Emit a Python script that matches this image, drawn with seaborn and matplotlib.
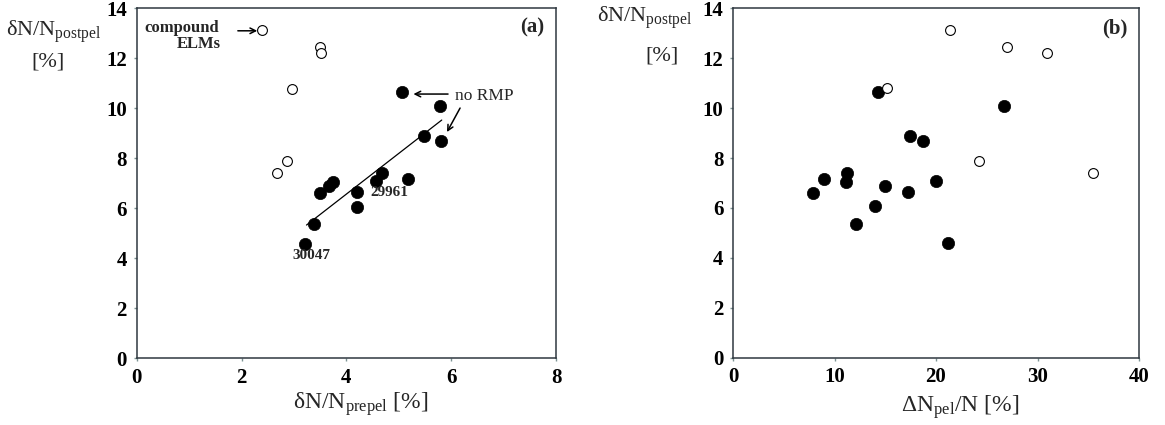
import matplotlib
matplotlib.use("Agg")
import matplotlib.pyplot as plt
import seaborn as sns
import numpy as np
import pandas as pd

# ---------------- data ----------------
# filled circles (RMP / no RMP discharges)
filled_post = [10.64, 10.08, 8.88, 8.69, 7.40, 7.09, 7.17, 7.04, 6.88, 6.61, 6.64, 6.07, 5.37, 4.59]
filled_pre = [5.06, 5.78, 5.49, 5.81, 4.68, 4.57, 5.17, 3.75, 3.67, 3.49, 4.21, 4.20, 3.39, 3.22]
filled_pel = [14.25, 26.74, 17.39, 18.75, 11.24, 19.97, 8.99, 11.16, 14.99, 7.92, 17.28, 13.97, 12.08, 21.18]
# open circles (compound ELMs)
open_post = [13.12, 12.46, 12.22, 10.79, 7.90, 7.40]
open_pre = [2.40, 3.49, 3.52, 2.96, 2.87, 2.67]
open_pel = [21.40, 27.04, 30.94, 15.22, 24.20, 35.50]
# fitted line in panel (a)
fit_x = [3.24, 5.82]
fit_y = [5.33, 9.53]

xticks_a = [0, 2, 4, 6, 8]
xticks_b = [0, 10, 20, 30, 40]
yticks = [0, 2, 4, 6, 8, 10, 12, 14]

df_f = pd.DataFrame({"pre": filled_pre, "pel": filled_pel, "post": filled_post})
df_o = pd.DataFrame({"pre": open_pre, "pel": open_pel, "post": open_post})
df_fit = pd.DataFrame({"x": fit_x, "y": fit_y})

# ---------------- style ----------------
sns.set_style("white")
plt.rcParams["font.family"] = ["Liberation Serif", "DejaVu Serif"]
plt.rcParams["mathtext.fontset"] = "custom"
plt.rcParams["mathtext.rm"] = "Liberation Serif"
plt.rcParams["mathtext.it"] = "Liberation Serif:italic"
plt.rcParams["mathtext.bf"] = "Liberation Serif:bold"

W, H = 1165, 425
fig = plt.figure(figsize=(W / 100, H / 100), dpi=100)

def px_rect(l, r, t, b):
    return [l / W, 1 - b / H, (r - l) / W, (b - t) / H]

ax1 = fig.add_axes(px_rect(136.7, 556.0, 8.3, 358.3))
ax2 = fig.add_axes(px_rect(733.0, 1139.0, 8.3, 357.7))

spine_col = "#2f3840"
tick_col = "#7d9494"

def style_axes(ax, xticks):
    ax.set_ylim(0, 14)
    ax.set_xlim(xticks[0], xticks[-1])
    ax.set_xticks(xticks)
    ax.set_yticks(yticks)
    ax.set_xlabel("")
    ax.set_ylabel("")
    for s in ax.spines.values():
        s.set_visible(True)
        s.set_color(spine_col)
        s.set_linewidth(1.1)
    ax.tick_params(axis="both", which="both", direction="out", length=2.5,
                   width=1.0, color=tick_col, pad=4.5, labelsize=15,
                   bottom=True, left=True)
    for lab in ax.get_xticklabels() + ax.get_yticklabels():
        lab.set_fontweight("bold")
        lab.set_color("black")

for ax, xcol, xticks in [(ax1, "pre", xticks_a), (ax2, "pel", xticks_b)]:
    sns.scatterplot(data=df_f, x=xcol, y="post", ax=ax, s=78, color="black",
                    edgecolor="black", linewidth=0.5, zorder=3, legend=False)
    sns.scatterplot(data=df_o, x=xcol, y="post", ax=ax, s=50, facecolor="white",
                    edgecolor="black", linewidth=0.8, zorder=3, legend=False)
    style_axes(ax, xticks)

sns.lineplot(data=df_fit, x="x", y="y", ax=ax1, color="black", linewidth=0.9,
             zorder=2, legend=False)
ax1.set_xlabel("")
ax1.set_ylabel("")

# ---------------- annotations panel (a) ----------------
ax1.text(1.57, 13.06, "compound", ha="right", va="baseline", fontsize=12,
         fontweight="bold")
ax1.text(1.61, 12.42, "ELMs", ha="right", va="baseline", fontsize=12,
         fontweight="bold")
ax1.annotate("", xy=(2.30, 13.10), xytext=(1.93, 13.10),
             arrowprops=dict(arrowstyle="->", lw=1.1, color="black",
                             shrinkA=0, shrinkB=0))
ax1.text(6.08, 10.33, "no RMP", ha="left", va="baseline", fontsize=12.5)
ax1.annotate("", xy=(5.28, 10.57), xytext=(5.94, 10.57),
             arrowprops=dict(arrowstyle="->", lw=1.1, color="black",
                             shrinkA=0, shrinkB=0))
ax1.annotate("", xy=(5.92, 9.05), xytext=(6.17, 10.01),
             arrowprops=dict(arrowstyle="->", lw=1.1, color="black",
                             shrinkA=0, shrinkB=0))
ax1.text(4.45, 6.63, "29961", ha="left", va="center", fontsize=11,
         fontweight="bold")
ax1.text(2.98, 4.13, "30047", ha="left", va="center", fontsize=11,
         fontweight="bold")
ax1.text(7.77, 13.25, "(a)", ha="right", va="center", fontsize=15,
         fontweight="bold")
ax2.text(38.9, 13.21, "(b)", ha="right", va="center", fontsize=15,
         fontweight="bold")

# ---------------- axis labels ----------------
lab_fs_y = 16
fig.text(6.0 / W, 1 - 35.7 / H, r"δN/N$_{\mathrm{postpel}}$", ha="left",
         va="baseline", fontsize=lab_fs_y)
fig.text(31.7 / W, 1 - 66.7 / H, "[%]", ha="left", va="baseline",
         fontsize=lab_fs_y)
fig.text(597.0 / W, 1 - 21.7 / H, r"δN/N$_{\mathrm{postpel}}$", ha="left",
         va="baseline", fontsize=lab_fs_y)
fig.text(645.0 / W, 1 - 60.0 / H, "[%]", ha="left", va="baseline",
         fontsize=lab_fs_y)

fig.text(360.6 / W, 1 - 408.3 / H, r"δN/N$_{\mathrm{prepel}}$ [%]",
         ha="center", va="baseline", fontsize=17)
fig.text(960.0 / W, 1 - 411.7 / H, r"ΔN$_{\mathrm{pel}}$/N [%]",
         ha="center", va="baseline", fontsize=17)

fig.savefig("out.png", dpi=100)
